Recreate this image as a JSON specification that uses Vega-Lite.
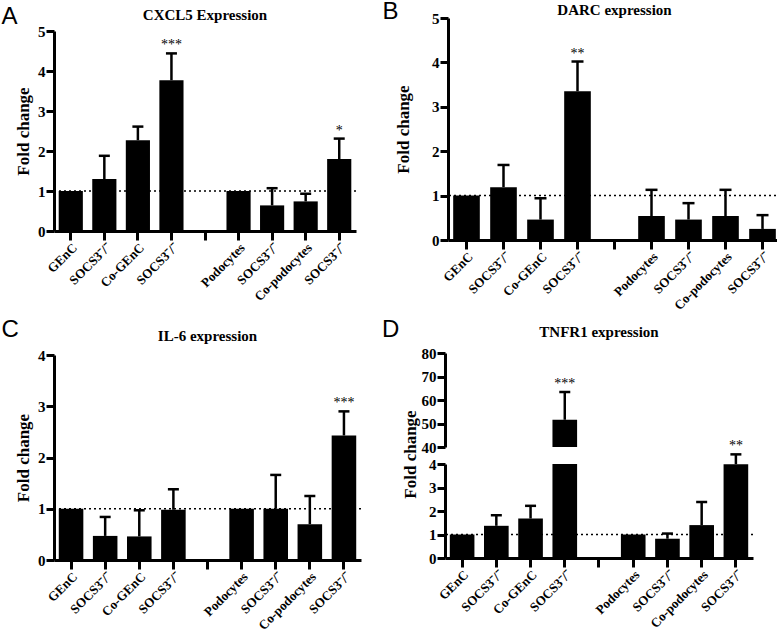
{
  "$schema": "https://vega.github.io/schema/vega-lite/v6.json",
  "padding": {"left": 1, "top": 0, "right": 0, "bottom": 0},
  "background": "white",
  "datasets": {
    "fc": [
      {"p": "A", "c": "1", "v": 1.0},
      {"p": "A", "c": "2", "v": 1.30, "hi": 1.88},
      {"p": "A", "c": "3", "v": 2.27, "hi": 2.61},
      {"p": "A", "c": "4", "v": 3.77, "hi": 4.44, "s": "***"},
      {"p": "A", "c": "6", "v": 1.0},
      {"p": "A", "c": "7", "v": 0.64, "hi": 1.07},
      {"p": "A", "c": "8", "v": 0.74, "hi": 0.93},
      {"p": "A", "c": "9", "v": 1.80, "hi": 2.31, "s": "*"},
      {"p": "B", "c": "1", "v": 1.0},
      {"p": "B", "c": "2", "v": 1.19, "hi": 1.69},
      {"p": "B", "c": "3", "v": 0.46, "hi": 0.94},
      {"p": "B", "c": "4", "v": 3.35, "hi": 4.02, "s": "**"},
      {"p": "B", "c": "6", "v": 0.54, "hi": 1.13},
      {"p": "B", "c": "7", "v": 0.46, "hi": 0.83},
      {"p": "B", "c": "8", "v": 0.54, "hi": 1.13},
      {"p": "B", "c": "9", "v": 0.25, "hi": 0.56},
      {"p": "C", "c": "1", "v": 1.0},
      {"p": "C", "c": "2", "v": 0.47, "hi": 0.84},
      {"p": "C", "c": "3", "v": 0.46, "hi": 0.97},
      {"p": "C", "c": "4", "v": 0.98, "hi": 1.38},
      {"p": "C", "c": "6", "v": 1.0},
      {"p": "C", "c": "7", "v": 1.0, "hi": 1.66},
      {"p": "C", "c": "8", "v": 0.70, "hi": 1.25},
      {"p": "C", "c": "9", "v": 2.43, "hi": 2.90, "s": "***"},
      {"p": "D", "c": "1", "v": 1.0},
      {"p": "D", "c": "2", "v": 1.37, "hi": 1.82},
      {"p": "D", "c": "3", "v": 1.68, "hi": 2.22},
      {"p": "D", "c": "4", "v": 51.6, "hi": 63.4, "s": "***"},
      {"p": "D", "c": "6", "v": 1.0},
      {"p": "D", "c": "7", "v": 0.82, "hi": 1.04},
      {"p": "D", "c": "8", "v": 1.40, "hi": 2.38},
      {"p": "D", "c": "9", "v": 3.99, "hi": 4.41, "s": "**"}
    ]
  },
  "columns": 2,
  "align": "none",
  "spacing": {"row": 5, "column": 20},
  "concat": [
        {
          "title": {"text": "A", "anchor": "start", "font": "Liberation Sans", "fontSize": 24, "fontWeight": "normal", "offset": -21, "dx": -13},
          "vconcat": [
            {
              "title": {"text": "CXCL5 Expression", "offset": -5},
              "width": 302, "height": 213,
              "layer": [
                {"data": {"values": [{}]}, "mark": {"type": "rule", "strokeDash": [2, 3], "strokeWidth": 1.5, "color": "black"}, "encoding": {"y": {"datum": 1, "type": "quantitative", "title": "Fold change", "scale": {"domain": [0, 5], "nice": false, "range": [213, 13]}, "axis": {"values": [0,1,2,3,4,5], "format": "d", "labelOverlap": false}}}},
                {"data": {"name": "fc"}, "transform": [{"filter": "datum.p == 'A'"}], "mark": {"type": "bar", "color": "black"},
                 "encoding": {
                   "x": {"field": "c", "type": "nominal", "title": null, "scale": {"domain": ["1","2","3","4","5","6","7","8","9"], "paddingInner": 0.28, "paddingOuter": 0.14}, "axis": {"labelExpr": "['GEnC','SOCS3⁻/⁻','Co-GEnC','SOCS3⁻/⁻','','Podocytes','SOCS3⁻/⁻','Co-podocytes','SOCS3⁻/⁻'][toNumber(datum.value)-1]"}},
                   "y": {"field": "v", "type": "quantitative", "title": "Fold change", "scale": {"domain": [0, 5], "nice": false, "range": [213, 13]}, "axis": {"values": [0,1,2,3,4,5], "format": "d", "labelOverlap": false}}}},
                {"data": {"name": "fc"}, "transform": [{"filter": "datum.p == 'A' && isValid(datum.hi)"}], "mark": {"type": "rule", "color": "black", "strokeWidth": 2.5},
                 "encoding": {"x": {"field": "c", "type": "nominal", "title": null}, "y": {"field": "v", "type": "quantitative", "title": "Fold change", "scale": {"domain": [0, 5], "nice": false, "range": [213, 13]}, "axis": {"values": [0,1,2,3,4,5], "format": "d", "labelOverlap": false}}, "y2": {"field": "hi"}}},
                {"data": {"name": "fc"}, "transform": [{"filter": "datum.p == 'A' && isValid(datum.hi)"}], "mark": {"type": "tick", "color": "black", "size": 11, "thickness": 2.5, "opacity": 1},
                 "encoding": {"x": {"field": "c", "type": "nominal", "title": null}, "y": {"field": "hi", "type": "quantitative", "title": "Fold change", "scale": {"domain": [0, 5], "nice": false, "range": [213, 13]}, "axis": {"values": [0,1,2,3,4,5], "format": "d", "labelOverlap": false}}}},
                {"data": {"name": "fc"}, "transform": [{"filter": "datum.p == 'A' && isValid(datum.s)"}], "mark": {"type": "text", "baseline": "bottom", "dy": -1, "fontSize": 14, "font": "Liberation Serif", "color": "black"},
                 "encoding": {"x": {"field": "c", "type": "nominal", "title": null}, "y": {"field": "hi", "type": "quantitative", "title": "Fold change", "scale": {"domain": [0, 5], "nice": false, "range": [213, 13]}, "axis": {"values": [0,1,2,3,4,5], "format": "d", "labelOverlap": false}}, "text": {"field": "s"}}}
              ]
            }
          ]
        },
        {
          "title": {"text": "B", "anchor": "start", "font": "Liberation Sans", "fontSize": 24, "fontWeight": "normal", "offset": -21, "dx": -12},
          "vconcat": [
            {
              "title": {"text": "DARC expression", "offset": -7},
              "width": 333, "height": 222,
              "layer": [
                {"data": {"values": [{}]}, "mark": {"type": "rule", "strokeDash": [2, 3], "strokeWidth": 1.5, "color": "black"}, "encoding": {"y": {"datum": 1, "type": "quantitative", "title": "Fold change", "scale": {"domain": [0, 5], "nice": false}, "axis": {"values": [0,1,2,3,4,5], "format": "d", "labelOverlap": false, "titlePadding": 19}}}},
                {"data": {"name": "fc"}, "transform": [{"filter": "datum.p == 'B'"}], "mark": {"type": "bar", "color": "black"},
                 "encoding": {
                   "x": {"field": "c", "type": "nominal", "title": null, "scale": {"domain": ["1","2","3","4","5","6","7","8","9"], "paddingInner": 0.28, "paddingOuter": 0.14}, "axis": {"labelExpr": "['GEnC','SOCS3⁻/⁻','Co-GEnC','SOCS3⁻/⁻','','Podocytes','SOCS3⁻/⁻','Co-podocytes','SOCS3⁻/⁻'][toNumber(datum.value)-1]"}},
                   "y": {"field": "v", "type": "quantitative", "title": "Fold change", "scale": {"domain": [0, 5], "nice": false}, "axis": {"values": [0,1,2,3,4,5], "format": "d", "labelOverlap": false, "titlePadding": 19}}}},
                {"data": {"name": "fc"}, "transform": [{"filter": "datum.p == 'B' && isValid(datum.hi)"}], "mark": {"type": "rule", "color": "black", "strokeWidth": 2.5},
                 "encoding": {"x": {"field": "c", "type": "nominal", "title": null}, "y": {"field": "v", "type": "quantitative", "title": "Fold change", "axis": {"values": [0,1,2,3,4,5], "format": "d", "labelOverlap": false, "titlePadding": 19}}, "y2": {"field": "hi"}}},
                {"data": {"name": "fc"}, "transform": [{"filter": "datum.p == 'B' && isValid(datum.hi)"}], "mark": {"type": "tick", "color": "black", "size": 12, "thickness": 2.5, "opacity": 1},
                 "encoding": {"x": {"field": "c", "type": "nominal", "title": null}, "y": {"field": "hi", "type": "quantitative", "title": "Fold change", "axis": {"values": [0,1,2,3,4,5], "format": "d", "labelOverlap": false, "titlePadding": 19}}}},
                {"data": {"name": "fc"}, "transform": [{"filter": "datum.p == 'B' && isValid(datum.s)"}], "mark": {"type": "text", "baseline": "bottom", "dy": -1, "fontSize": 14, "font": "Liberation Serif", "color": "black"},
                 "encoding": {"x": {"field": "c", "type": "nominal", "title": null}, "y": {"field": "hi", "type": "quantitative", "title": "Fold change", "axis": {"values": [0,1,2,3,4,5], "format": "d", "labelOverlap": false, "titlePadding": 19}}, "text": {"field": "s"}}}
              ]
            }
          ]
        },
        {
          "title": {"text": "C", "anchor": "start", "font": "Liberation Sans", "fontSize": 24, "fontWeight": "normal", "offset": -13, "dx": -13},
          "vconcat": [
            {
              "title": {"text": "IL-6 expression", "offset": 4},
              "width": 307, "height": 205,
              "layer": [
                {"data": {"values": [{}]}, "mark": {"type": "rule", "strokeDash": [2, 3], "strokeWidth": 1.5, "color": "black"}, "encoding": {"y": {"datum": 1, "type": "quantitative", "title": "Fold change", "scale": {"domain": [0, 4], "nice": false}, "axis": {"values": [0,1,2,3,4], "format": "d", "labelOverlap": false}}}},
                {"data": {"name": "fc"}, "transform": [{"filter": "datum.p == 'C'"}], "mark": {"type": "bar", "color": "black"},
                 "encoding": {
                   "x": {"field": "c", "type": "nominal", "title": null, "scale": {"domain": ["1","2","3","4","5","6","7","8","9"], "paddingInner": 0.28, "paddingOuter": 0.14}, "axis": {"labelExpr": "['GEnC','SOCS3⁻/⁻','Co-GEnC','SOCS3⁻/⁻','','Podocytes','SOCS3⁻/⁻','Co-podocytes','SOCS3⁻/⁻'][toNumber(datum.value)-1]"}},
                   "y": {"field": "v", "type": "quantitative", "title": "Fold change", "scale": {"domain": [0, 4], "nice": false}, "axis": {"values": [0,1,2,3,4], "format": "d", "labelOverlap": false}}}},
                {"data": {"name": "fc"}, "transform": [{"filter": "datum.p == 'C' && isValid(datum.hi)"}], "mark": {"type": "rule", "color": "black", "strokeWidth": 2.5},
                 "encoding": {"x": {"field": "c", "type": "nominal", "title": null}, "y": {"field": "v", "type": "quantitative", "title": "Fold change", "axis": {"values": [0,1,2,3,4], "format": "d", "labelOverlap": false}}, "y2": {"field": "hi"}}},
                {"data": {"name": "fc"}, "transform": [{"filter": "datum.p == 'C' && isValid(datum.hi)"}], "mark": {"type": "tick", "color": "black", "size": 11, "thickness": 2.5, "opacity": 1},
                 "encoding": {"x": {"field": "c", "type": "nominal", "title": null}, "y": {"field": "hi", "type": "quantitative", "title": "Fold change", "axis": {"values": [0,1,2,3,4], "format": "d", "labelOverlap": false}}}},
                {"data": {"name": "fc"}, "transform": [{"filter": "datum.p == 'C' && isValid(datum.s)"}], "mark": {"type": "text", "baseline": "bottom", "dy": -1, "fontSize": 14, "font": "Liberation Serif", "color": "black"},
                 "encoding": {"x": {"field": "c", "type": "nominal", "title": null}, "y": {"field": "hi", "type": "quantitative", "title": "Fold change", "axis": {"values": [0,1,2,3,4], "format": "d", "labelOverlap": false}}, "text": {"field": "s"}}}
              ]
            }
          ]
        },
        {
          "title": {"text": "D", "anchor": "start", "font": "Liberation Sans", "fontSize": 24, "fontWeight": "normal", "offset": -17, "dx": -19},
          "spacing": 17,
          "bounds": "flush",
          "vconcat": [
            {
              "title": {"text": "TNFR1 expression", "offset": 6},
              "width": 308, "height": 94,
              "layer": [
                {"data": {"name": "fc"}, "transform": [{"filter": "datum.p == 'D'"}], "mark": {"type": "bar", "color": "black", "clip": true},
                 "encoding": {
                   "x": {"field": "c", "type": "nominal", "title": null, "scale": {"domain": ["1","2","3","4","5","6","7","8","9"], "paddingInner": 0.28, "paddingOuter": 0.14}, "axis": null},
                   "y": {"field": "v", "type": "quantitative", "title": null, "scale": {"domain": [40, 80], "nice": false, "zero": false}, "axis": {"values": [40,50,60,70,80], "format": "d", "labelOverlap": false}}}},
                {"data": {"name": "fc"}, "transform": [{"filter": "datum.p == 'D' && datum.hi > 10"}], "mark": {"type": "rule", "color": "black", "strokeWidth": 2.5},
                 "encoding": {"x": {"field": "c", "type": "nominal", "title": null}, "y": {"field": "v", "type": "quantitative", "title": null, "axis": {"values": [40,50,60,70,80], "format": "d", "labelOverlap": false}}, "y2": {"field": "hi"}}},
                {"data": {"name": "fc"}, "transform": [{"filter": "datum.p == 'D' && datum.hi > 10"}], "mark": {"type": "tick", "color": "black", "size": 11, "thickness": 2.5, "opacity": 1},
                 "encoding": {"x": {"field": "c", "type": "nominal", "title": null}, "y": {"field": "hi", "type": "quantitative", "title": null, "axis": {"values": [40,50,60,70,80], "format": "d", "labelOverlap": false}}}},
                {"data": {"name": "fc"}, "transform": [{"filter": "datum.p == 'D' && isValid(datum.s) && datum.hi > 10"}], "mark": {"type": "text", "baseline": "bottom", "dy": -1, "fontSize": 14, "font": "Liberation Serif", "color": "black"},
                 "encoding": {"x": {"field": "c", "type": "nominal", "title": null}, "y": {"field": "hi", "type": "quantitative", "title": null, "axis": {"values": [40,50,60,70,80], "format": "d", "labelOverlap": false}}, "text": {"field": "s"}}}
              ]
            },
            {
              "width": 308, "height": 94,
              "layer": [
                {"data": {"values": [{}]}, "mark": {"type": "rule", "strokeDash": [2, 3], "strokeWidth": 1.5, "color": "black"}, "encoding": {"y": {"datum": 1, "type": "quantitative", "title": "Fold change", "scale": {"domain": [0, 4], "nice": false}, "axis": {"values": [0,1,2,3,4], "format": "d", "labelOverlap": false, "titleY": -10, "titleX": -26}}}},
                {"data": {"name": "fc"}, "transform": [{"filter": "datum.p == 'D'"}], "mark": {"type": "bar", "color": "black", "clip": true},
                 "encoding": {
                   "x": {"field": "c", "type": "nominal", "title": null, "scale": {"domain": ["1","2","3","4","5","6","7","8","9"], "paddingInner": 0.28, "paddingOuter": 0.14}, "axis": {"labelExpr": "['GEnC','SOCS3⁻/⁻','Co-GEnC','SOCS3⁻/⁻','','Podocytes','SOCS3⁻/⁻','Co-podocytes','SOCS3⁻/⁻'][toNumber(datum.value)-1]"}},
                   "y": {"field": "v", "type": "quantitative", "title": "Fold change", "scale": {"domain": [0, 4], "nice": false}, "axis": {"values": [0,1,2,3,4], "format": "d", "labelOverlap": false, "titleY": -10, "titleX": -26}}}},
                {"data": {"name": "fc"}, "transform": [{"filter": "datum.p == 'D' && datum.hi < 10"}], "mark": {"type": "rule", "color": "black", "strokeWidth": 2.5},
                 "encoding": {"x": {"field": "c", "type": "nominal", "title": null}, "y": {"field": "v", "type": "quantitative", "title": "Fold change", "axis": {"values": [0,1,2,3,4], "format": "d", "labelOverlap": false, "titleY": -10, "titleX": -26}}, "y2": {"field": "hi"}}},
                {"data": {"name": "fc"}, "transform": [{"filter": "datum.p == 'D' && datum.hi < 10"}], "mark": {"type": "tick", "color": "black", "size": 11, "thickness": 2.5, "opacity": 1},
                 "encoding": {"x": {"field": "c", "type": "nominal", "title": null}, "y": {"field": "hi", "type": "quantitative", "title": "Fold change", "axis": {"values": [0,1,2,3,4], "format": "d", "labelOverlap": false, "titleY": -10, "titleX": -26}}}},
                {"data": {"name": "fc"}, "transform": [{"filter": "datum.p == 'D' && isValid(datum.s) && datum.hi < 10"}], "mark": {"type": "text", "baseline": "bottom", "dy": -1, "fontSize": 14, "font": "Liberation Serif", "color": "black"},
                 "encoding": {"x": {"field": "c", "type": "nominal", "title": null}, "y": {"field": "hi", "type": "quantitative", "title": "Fold change", "axis": {"values": [0,1,2,3,4], "format": "d", "labelOverlap": false, "titleY": -10, "titleX": -26}}, "text": {"field": "s"}}}
              ]
            }
          ]
        }
  ],
  "config": {
    "font": "Liberation Serif",
    "view": {"stroke": null},
    "axis": {"domainColor": "black", "domainWidth": 3, "tickColor": "black", "tickWidth": 3, "labelColor": "black", "labelFont": "Liberation Serif", "labelFontWeight": "bold", "titleFont": "Liberation Serif", "titleFontWeight": "bold", "titleColor": "black", "grid": false},
    "axisX": {"labelAngle": -45, "labelFontSize": 13, "tickSize": 9, "labelPadding": 1},
    "axisY": {"labelFontSize": 15, "tickSize": 8, "titleFontSize": 17, "labelPadding": 1, "titlePadding": 5},
    "title": {"font": "Liberation Serif", "fontWeight": "bold", "fontSize": 15, "color": "black"}
  }
}
